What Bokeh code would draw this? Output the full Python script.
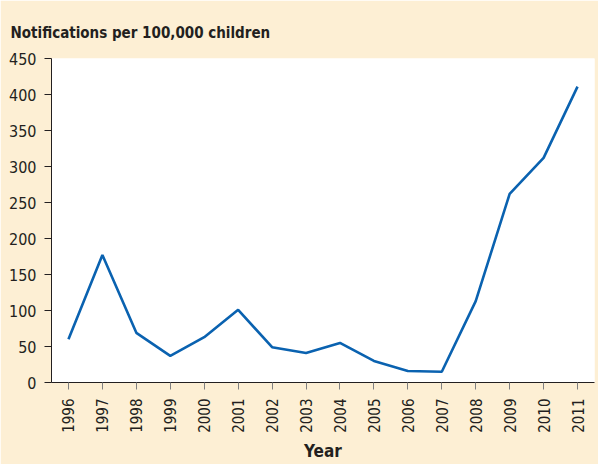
from math import pi
from bokeh.plotting import figure
from bokeh.models import FactorRange, Range1d, SingleIntervalTicker, Title
from bokeh.embed import file_html
from bokeh.resources import INLINE

years = ["1996", "1997", "1998", "1999", "2000", "2001", "2002", "2003",
         "2004", "2005", "2006", "2007", "2008", "2009", "2010", "2011"]
notifications = [60, 177, 69, 37, 63, 101, 49, 41, 55, 30, 16, 15, 113, 262, 312, 411]

title_text = "Notifications per 100,000 children"
x_label = "Year"

BEIGE = "#FDEFD4"
TEXT = "#231F20"
FONT = "DejaVu Sans Condensed"

p = figure(width=598, height=464, output_backend="svg", toolbar_location=None,
           x_range=FactorRange(*years), y_range=Range1d(0, 450),
           background_fill_color="white", border_fill_color=BEIGE,
           min_border_left=51, min_border_right=4, min_border_top=58, min_border_bottom=82)
p.outline_line_color = None
p.grid.visible = False

t = Title(text=title_text, text_font=FONT, text_font_size="15px", text_font_style="bold",
          text_color=TEXT, align="left", offset=-41, standoff=30, vertical_align="top")
p.add_layout(t, "above")

p.line(years, notifications, line_color="#0A62B0", line_width=2.6)

p.yaxis.ticker = SingleIntervalTicker(interval=50)
p.yaxis.minor_tick_line_color = None
p.yaxis.major_tick_out = 7
p.yaxis.major_tick_in = 0
p.yaxis.major_label_standoff = 8
p.yaxis.axis_line_color = TEXT
p.yaxis.major_tick_line_color = TEXT
p.yaxis.major_label_text_font = FONT
p.yaxis.major_label_text_font_size = "16px"
p.yaxis.major_label_text_color = TEXT

p.xaxis.major_label_orientation = pi / 2
p.xaxis.major_tick_out = 7
p.xaxis.major_tick_in = 0
p.xaxis.major_label_standoff = 9
p.xaxis.axis_line_color = TEXT
p.xaxis.major_tick_line_color = "#808080"
p.xaxis.major_label_text_font = FONT
p.xaxis.major_label_text_font_size = "15px"
p.xaxis.major_label_text_color = TEXT
p.xaxis.axis_label = x_label
p.xaxis.axis_label_text_font = FONT
p.xaxis.axis_label_text_font_size = "17px"
p.xaxis.axis_label_text_font_style = "bold"
p.xaxis.axis_label_text_color = TEXT
p.xaxis.axis_label_standoff = 5

open("out.html", "w").write(file_html(p, INLINE))
